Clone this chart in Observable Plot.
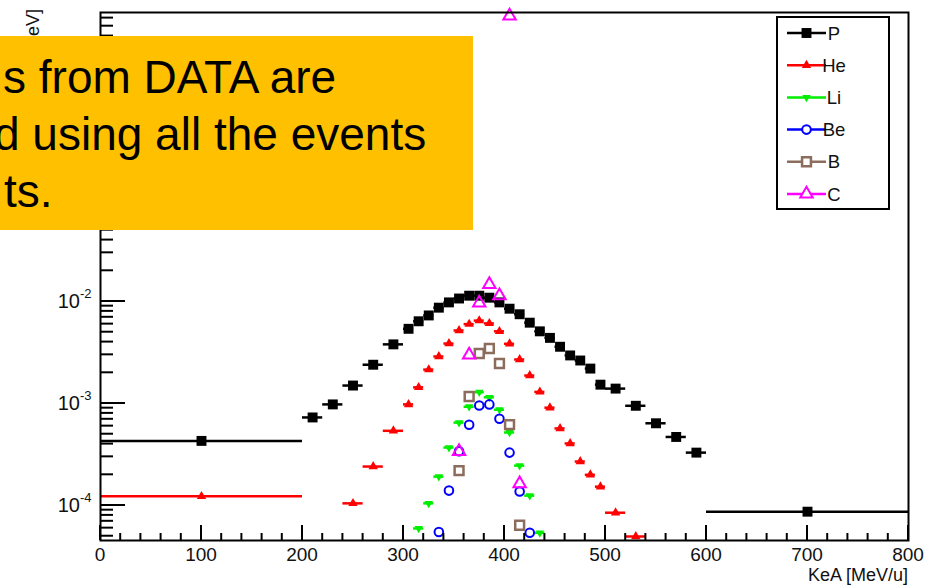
<!DOCTYPE html>
<html><head><meta charset="utf-8">
<script src="https://cdn.jsdelivr.net/npm/d3@7"></script>
<script src="https://cdn.jsdelivr.net/npm/@observablehq/plot@0.6"></script>
<style>
html,body{margin:0;padding:0;background:#fff;}
#wrap{position:relative;width:941px;height:588px;overflow:hidden;font-family:"Liberation Sans",Arial,sans-serif;}
#note{position:absolute;left:0;top:36px;width:473px;height:194px;background:#FFC000;overflow:hidden;}
#note div{position:absolute;white-space:nowrap;font-size:46px;line-height:1;color:#000;}
</style></head><body>
<div id="wrap"><div id="chart"></div>
<div id="note">
<div style="left:3px;top:18px">s from DATA are</div>
<div style="left:-6px;top:75px">d using all the events</div>
<div style="left:4px;top:132px">ts.</div>
</div></div>
<script>
// ---- data (bin edges and values) ----
const pLo  = [0,200,220,240,260,280,300,310,320,330,340,350,360,370,380,390,400,410,420,430,440,450,460,470,480,490,500,520,540,560,580,600];
const pHi  = [200,220,240,260,280,300,310,320,330,340,350,360,370,380,390,400,410,420,430,440,450,460,470,480,490,500,520,540,560,580,600,800];
const pVal = [4.3e-4,7.3e-4,9.8e-4,1.5e-3,2.4e-3,3.8e-3,5.4e-3,6.4e-3,7.3e-3,8.7e-3,9.8e-3,1.07e-2,1.14e-2,1.14e-2,1.09e-2,9.8e-3,8.5e-3,7.5e-3,6.2e-3,5.1e-3,4.4e-3,3.6e-3,2.96e-3,2.64e-3,2.2e-3,1.53e-3,1.4e-3,9.5e-4,6.4e-4,4.7e-4,3.3e-4,8.7e-5];

const heLo  = [0,240,260,280,300,310,320,330,340,350,360,370,380,390,400,410,420,430,440,450,460,470,480,490,500,520];
const heHi  = [200,260,280,300,310,320,330,340,350,360,370,380,390,400,410,420,430,440,450,460,470,480,490,500,520,540];
const heVal = [1.23e-4,1.05e-4,2.41e-4,5.4e-4,9.8e-4,1.44e-3,2.15e-3,2.89e-3,3.87e-3,5.2e-3,6.0e-3,6.5e-3,6.1e-3,5.1e-3,3.85e-3,2.7e-3,1.88e-3,1.3e-3,9.1e-4,5.7e-4,4.06e-4,2.7e-4,2.0e-4,1.53e-4,8.5e-5,4.97e-5];

const liLo  = [310,320,330,340,350,360,370,380,390,400,410,420,430];
const liHi  = [320,330,340,350,360,370,380,390,400,410,420,430,440];
const liVal = [5.96e-5,1.05e-4,1.92e-4,3.7e-4,6.5e-4,9.3e-4,1.29e-3,1.15e-3,8.7e-4,5.2e-4,2.46e-4,1.25e-4,5.4e-5];

const beLo  = [330,340,350,360,370,380,390,400,410,420];
const beHi  = [340,350,360,370,380,390,400,410,420,430];
const beVal = [5.5e-5,1.4e-4,3.4e-4,6.2e-4,9.55e-4,9.8e-4,7.1e-4,3.3e-4,1.37e-4,5.4e-5];

const bLo  = [350,360,370,380,390,400,410];
const bHi  = [360,370,380,390,400,410,420];
const bVal = [2.2e-4,1.17e-3,3.09e-3,3.46e-3,2.47e-3,6.2e-4,6.4e-5];

const cLo  = [350,360,370,380,390,400,410];
const cHi  = [360,370,380,390,400,410,420];
const cVal = [3.4e-4,3.0e-3,9.7e-3,1.47e-2,1.14e-2,6.3,1.64e-4];

const seriesNames = ["P","He","Li","Be","B","C"];
const xTickLabels = ["0","100","200","300","400","500","600","700","800"];
const xTickValues = [0,100,200,300,400,500,600,700,800];
const yLabelExps  = [-4,-3,-2];
const xTitle = "KeA [MeV/u]";
const yTitle = "eV]";

// ---- styling ----
const sqrt3 = Math.sqrt(3);
const triDown = {draw(ctx, size){ const y = -Math.sqrt(size/(sqrt3*3)); ctx.moveTo(0,-y*2); ctx.lineTo(-sqrt3*y,y); ctx.lineTo(sqrt3*y,y); ctx.closePath(); }};
const styles = {
  P:  {color:"#000000", symbol:"square",   r:5.6, filled:true,  bars:true,  sw:0},
  He: {color:"#ff0000", symbol:"triangle", r:3.5, filled:true,  bars:true,  sw:0},
  Li: {color:"#00ee00", symbol:triDown,    r:3.1, filled:true,  bars:true,  sw:0},
  Be: {color:"#0000ff", symbol:"circle",   r:4.3, filled:false, bars:false, sw:2},
  B:  {color:"#8c6c5c", symbol:"square",   r:5.0, filled:false, bars:false, sw:2.5},
  C:  {color:"#ff00ff", symbol:"triangle", r:4.6, filled:false, bars:false, sw:2}
};
const raw = {P:[pLo,pHi,pVal], He:[heLo,heHi,heVal], Li:[liLo,liHi,liVal], Be:[beLo,beHi,beVal], B:[bLo,bHi,bVal], C:[cLo,cHi,cVal]};
const rows = [];
for (const s of seriesNames) {
  const [lo,hi,v] = raw[s];
  v.forEach((val,i)=>rows.push({s, lo:lo[i], hi:hi[i], c:(lo[i]+hi[i])/2, v:val}));
}

const yDomain = [4.54e-5, 6.81];

function decor(index, scales, values, dims) {
  const x = scales.x, y = scales.y;
  const L = dims.marginLeft, B = dims.height - dims.marginBottom, T = dims.marginTop, R = dims.width - dims.marginRight;
  const g = d3.create("svg:g");
  const tk = g.append("g").attr("stroke","#000").attr("stroke-width",2);
  for (let v = 0; v <= 800; v += 20) {
    const major = xTickValues.includes(v);
    tk.append("line").attr("x1",x(v)).attr("x2",x(v)).attr("y1",B).attr("y2",B-(major?15:7));
  }
  for (let e = -5; e <= 1; e++) for (let m = 1; m <= 9; m++) {
    const v = m*Math.pow(10,e);
    if (v < yDomain[0] || v > yDomain[1]) continue;
    const yy = y(v);
    tk.append("line").attr("x1",L).attr("x2",L+(m===1?25:13)).attr("y1",yy).attr("y2",yy);
  }
  const tx = g.append("g").attr("fill","#111").attr("font-family","'Liberation Sans',Arial,sans-serif");
  xTickValues.forEach((v,i)=>tx.append("text").attr("x",x(v)).attr("y",B+21).attr("text-anchor","middle").attr("font-size",19).text(xTickLabels[i]));
  tx.append("text").attr("x",R).attr("y",B+41).attr("text-anchor","end").attr("font-size",18).text(xTitle);
  for (const e of yLabelExps) {
    const yy = y(Math.pow(10,e));
    tx.append("text").attr("x",L-20).attr("y",yy+7).attr("text-anchor","end").attr("font-size",20).text("10");
    tx.append("text").attr("x",L-20).attr("y",yy-3).attr("text-anchor","start").attr("font-size",13).text(String(e));
  }
  tx.append("text").attr("transform",`translate(39,9) rotate(-90)`).attr("text-anchor","end").attr("font-size",18).text(yTitle);
  // legend
  const lg = g.append("g");
  lg.append("rect").attr("x",777).attr("y",17).attr("width",112).attr("height",192).attr("fill","#fff").attr("stroke","#000").attr("stroke-width",2);
  seriesNames.forEach((s,i)=>{
    const st = styles[s], yy = 33 + i*32.2;
    lg.append("line").attr("x1",787).attr("x2",826).attr("y1",yy).attr("y2",yy).attr("stroke",st.color).attr("stroke-width",2.5);
    const type = typeof st.symbol === "string" ? {square:d3.symbolSquare, triangle:d3.symbolTriangle, circle:d3.symbolCircle}[st.symbol] : st.symbol;
    lg.append("path").attr("transform",`translate(806.5,${yy})`).attr("d",d3.symbol(type, Math.PI*st.r*st.r)())
      .attr("fill", st.filled ? st.color : "#fff").attr("stroke", st.color).attr("stroke-width", st.sw||0);
    lg.append("text").attr("x",834).attr("y",yy+6.5).attr("font-size",18.5).attr("fill","#111").attr("font-family","'Liberation Sans',Arial,sans-serif").text(s);
  });
  return g.node();
}

const marks = [];
for (const s of seriesNames) {
  const st = styles[s];
  const data = rows.filter(d=>d.s===s);
  if (st.bars) marks.push(Plot.ruleY(data, {x1:"lo", x2:"hi", y:"v", stroke:st.color, strokeWidth:2.5}));
}
for (const s of seriesNames) {
  const st = styles[s];
  const data = rows.filter(d=>d.s===s);
  marks.push(Plot.dot(data, {x:"c", y:"v", symbol:st.symbol, r:st.r,
    fill: st.filled ? st.color : "none", stroke: st.filled ? "none" : st.color, strokeWidth: st.sw}));
}
marks.push(Plot.frame({stroke:"#000", strokeWidth:2}));
marks.push(decor);

const chart = Plot.plot({
  width: 941, height: 588,
  marginLeft: 100, marginRight: 33, marginTop: 12, marginBottom: 48,
  x: {domain:[0,800], axis:null},
  y: {type:"log", domain:yDomain, axis:null},
  style: {background:"#fff", fontFamily:"'Liberation Sans',Arial,sans-serif"},
  marks
});
document.getElementById("chart").appendChild(chart);
</script>
</body></html>
